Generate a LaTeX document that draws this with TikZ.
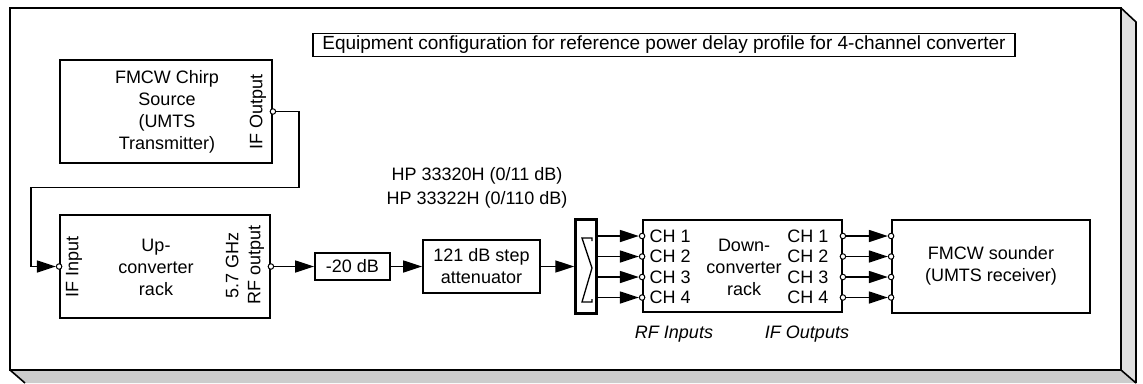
\documentclass[tikz,border=0pt]{standalone}
\usepackage{fontspec}
\setmainfont{Liberation Sans}
\usetikzlibrary{arrows.meta,positioning,calc}

\begin{document}
\begin{tikzpicture}[
    x=1pt, y=-1pt,
    every node/.style={font=\fontsize{18}{22}\selectfont},
    box/.style={rectangle, draw, line width=1.8pt, inner sep=0pt, align=center},
    txt/.style={align=center, inner sep=0pt},
    port/.style={circle, draw, fill=white, line width=1pt, inner sep=0pt, minimum size=5.5pt},
    arrow/.style={-{Triangle[length=19pt,width=12pt]}, line width=1.5pt}
]
\useasboundingbox (0,0) rectangle (1143,383);

% 3D frame round the set-up
\fill[gray!40] (10,370) -- (1121,370) -- (1136,383) -- (25,383) -- cycle;
\fill[gray!25] (1121,8) -- (1136,22) -- (1136,383) -- (1121,370) -- cycle;
\draw[line width=1.6pt] (10,370) -- (25,383) (1121,370) -- (1136,383) (1121,8) -- (1136,22) -- (1136,383);
\draw[line width=1.8pt, fill=white] (10,8) rectangle (1121,370);

% Title
\node[box, line width=1.5pt, minimum width=702pt, minimum height=23pt, font=\fontsize{19}{20}\selectfont] (title) at (664,45)
    {Equipment configuration for reference power delay profile for 4-channel converter};

% Transmit side
\node[box, minimum width=212pt, minimum height=103pt] (src) at (166,111.5) {};
\node[txt] (srctext) at (167,112) {FMCW Chirp\\Source\\(UMTS\\Transmitter)};
\node[txt, rotate=90] (ifout) at (258,112) {IF Output};
\node[port] (p0) at (src.east) {};

\node[box, minimum width=210pt, minimum height=103pt] (upc) at (165,266.5) {};
\node[txt] (upctext) at (156,267) {Up-\\converter\\rack};
\node[txt, rotate=90] (ifin) at (74,267) {IF Input};
\node[txt, rotate=90] (rfout) at (245,265) {5.7 GHz\\RF output};
\node[port] (p1) at (upc.west) {};
\node[port] (p2) at (upc.east) {};

\draw[arrow] (p0.east) -- ++(23,0) -- ++(0,76) -| ([xshift=-25pt]p1.west) -- (p1.west);

% Attenuators
\node[box, minimum width=75pt, minimum height=27pt] (m20) at (352.5,266.5) {-20 dB};
\node[box, minimum width=117pt, minimum height=53pt] (att) at (481.5,266.5) {121 dB step\\attenuator};
\node[txt, font=\fontsize{18}{24}\selectfont] (hp) at (477,188) {HP 33320H (0/11 dB)\\HP 33322H (0/110 dB)};
\draw[arrow] (p2.east) -- (m20.west);
\draw[arrow] (m20) -- (att);

% Splitter
\node[box, line width=1.4pt, minimum width=22pt, minimum height=95pt] (spl) at (586,266.5) {};
\draw[line width=1pt] ([shift={(2.5,2.5)}]spl.north west) rectangle ([shift={(-2.5,-2.5)}]spl.south east);
\draw[line width=1.3pt] (592,241) -- (592,238) -- (582,238) -- (592,268) -- (582,302) -- (592,302) -- (592,299);
\draw[arrow] (att) -- (spl);

% Receive side
\node[box, minimum width=199pt, minimum height=92pt] (dc) at (742.5,266) {};
\node[txt] (dctext) at (744,267) {Down-\\converter\\rack};
\node[box, minimum width=198pt, minimum height=93pt] (snd) at (991,266.5) {};
\node[txt] (sndtext) at (991,266) {FMCW sounder\\(UMTS receiver)};

\foreach \i/\y in {1/236,2/256.5,3/277,4/297.5} {
    \coordinate (y\i) at (0,\y);
    \node[port] (rin\i) at (dc.west |- y\i) {};
    \node[port] (rout\i) at (dc.east |- y\i) {};
    \node[port] (sin\i) at (snd.west |- y\i) {};
    \node[txt, anchor=west] (cl\i) at ([xshift=4pt]rin\i.east) {CH \i};
    \node[txt, anchor=east] (cr\i) at ([xshift=-11pt]rout\i.west) {CH \i};
    \draw[arrow] (spl.east |- y\i) -- (rin\i.west);
    \draw[arrow] (rout\i.east) -- (sin\i.west);
}

\node[txt, font=\fontsize{18}{22}\selectfont\itshape] (rfin) at (674,334) {RF Inputs};
\node[txt, font=\fontsize{18}{22}\selectfont\itshape] (ifo) at (807,334) {IF Outputs};

\end{tikzpicture}
\end{document}
